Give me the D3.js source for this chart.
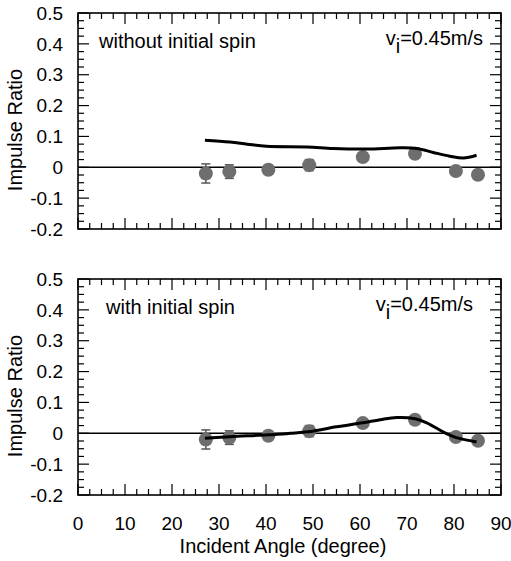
<!DOCTYPE html>
<html><head><meta charset="utf-8">
<script src="https://cdn.jsdelivr.net/npm/d3@7"></script>
<style>body{margin:0;background:#fff}svg{display:block}text{font-family:"Liberation Sans",Arial,sans-serif;fill:#000}</style>
</head><body><div id="c"></div>
<script>
// Data
const angles = [27.2, 32.2, 40.5, 49.2, 60.6, 71.7, 80.4, 85.1];
const measured = [-0.020, -0.014, -0.008, 0.007, 0.033, 0.044, -0.012, -0.024];
const errors = [0.031, 0.022, 0.014, 0.018, 0.008, 0.008, 0.008, 0.01];
const noSpinLineX = [27.0, 32.3, 36.0, 40.1, 48.7, 54.3, 61.4, 68.5, 72.1, 75.6, 79.1, 82.0, 84.8];
const noSpinLineY = [0.088, 0.082, 0.075, 0.068, 0.066, 0.061, 0.059, 0.063, 0.061, 0.048, 0.036, 0.030, 0.039];
const spinLineX = [27.0, 32.3, 40.5, 45.1, 49.0, 55.0, 60.6, 64.3, 67.8, 71.7, 74.2, 78.4, 80.5, 84.8];
const spinLineY = [-0.016, -0.011, -0.005, 0.0, 0.005, 0.021, 0.034, 0.044, 0.051, 0.047, 0.034, -0.001, -0.014, -0.028];
const xTicks = [0, 10, 20, 30, 40, 50, 60, 70, 80, 90];
const yTicks = [-0.2, -0.1, 0, 0.1, 0.2, 0.3, 0.4, 0.5];
const panelTitles = ["without initial spin", "with initial spin"];

const W = 511, H = 561;
const svg = d3.select("#c").append("svg").attr("width", W).attr("height", H);
const left = 78, right = 501, ph = 216;
const panels = [
  {top: 13, title: panelTitles[0], lx: noSpinLineX, ly: noSpinLineY, vEnd: 483, showX: false},
  {top: 279, title: panelTitles[1], lx: spinLineX, ly: spinLineY, vEnd: 473, showX: true}
];
const x = d3.scaleLinear().domain([0, 90]).range([left, right]);
const xMinor = d3.range(0, 90.01, 2.5);
const yMinor = d3.range(-0.2, 0.5001, 0.025);

panels.forEach(p => {
  const y = d3.scaleLinear().domain([-0.2, 0.5]).range([p.top + ph, p.top]);
  const g = svg.append("g");
  // ticks (inward, all sides)
  const tk = g.append("g").attr("stroke", "#000").attr("stroke-width", 1.2);
  xMinor.forEach(v => {
    const major = Math.abs(v / 10 - Math.round(v / 10)) < 1e-6;
    const L = major ? 11 : 6;
    tk.append("line").attr("x1", x(v)).attr("x2", x(v)).attr("y1", p.top + ph).attr("y2", p.top + ph - L);
    tk.append("line").attr("x1", x(v)).attr("x2", x(v)).attr("y1", p.top).attr("y2", p.top + L);
  });
  yMinor.forEach(v => {
    const major = Math.abs(v * 10 - Math.round(v * 10)) < 1e-6;
    const L = major ? 11 : 6;
    tk.append("line").attr("x1", left).attr("x2", left + L).attr("y1", y(v)).attr("y2", y(v));
    tk.append("line").attr("x1", right).attr("x2", right - L).attr("y1", y(v)).attr("y2", y(v));
  });
  // frame
  g.append("rect").attr("x", left).attr("y", p.top).attr("width", right - left).attr("height", ph)
    .attr("fill", "none").attr("stroke", "#000").attr("stroke-width", 1.6);
  // zero line
  g.append("line").attr("x1", left).attr("x2", right).attr("y1", y(0)).attr("y2", y(0))
    .attr("stroke", "#000").attr("stroke-width", 1.5);
  // y tick labels
  yTicks.forEach(v => {
    g.append("text").attr("x", 63).attr("y", y(v)).attr("dy", "0.35em").attr("text-anchor", "end")
      .attr("font-size", 19).text(v === 0 ? "0" : d3.format(".1f")(v).replace("−", "-"));
  });
  // y title
  g.append("text").attr("transform", `translate(22,${p.top + 117}) rotate(-90)`)
    .attr("text-anchor", "middle").attr("font-size", 20).text("Impulse Ratio");
  // error bars
  const eb = g.append("g").attr("stroke", "#555").attr("stroke-width", 1.5);
  angles.forEach((a, i) => {
    const cx = x(a), y1 = y(measured[i] + errors[i]), y2 = y(measured[i] - errors[i]);
    eb.append("line").attr("x1", cx).attr("x2", cx).attr("y1", y1).attr("y2", y2);
    eb.append("line").attr("x1", cx - 4.5).attr("x2", cx + 4.5).attr("y1", y1).attr("y2", y1);
    eb.append("line").attr("x1", cx - 4.5).attr("x2", cx + 4.5).attr("y1", y2).attr("y2", y2);
  });
  // dots
  g.append("g").selectAll("circle").data(angles).join("circle")
    .attr("cx", d => x(d)).attr("cy", (d, i) => y(measured[i])).attr("r", 7).attr("fill", "#6e6e6e");
  // model line
  const line = d3.line().x(d => x(d[0])).y(d => y(d[1])).curve(d3.curveCatmullRom.alpha(0.5));
  g.append("path").datum(p.lx.map((v, i) => [v, p.ly[i]])).attr("d", line)
    .attr("fill", "none").attr("stroke", "#000").attr("stroke-width", 3);
  // annotations
  g.append("text").attr("x", p === panels[0] ? 99 : 106).attr("y", p.top + 35).attr("font-size", 20).text(p.title);
  const vt = g.append("text").attr("x", p.vEnd).attr("y", p.top + 32).attr("text-anchor", "end").attr("font-size", 20);
  vt.append("tspan").text("v");
  vt.append("tspan").attr("dy", 8).text("i");
  vt.append("tspan").attr("dy", -8).text("=0.45m/s");
  if (p.showX) {
    xTicks.forEach(v => {
      g.append("text").attr("x", x(v)).attr("y", 530).attr("text-anchor", "middle").attr("font-size", 19).text(v);
    });
    g.append("text").attr("x", 283).attr("y", 553).attr("text-anchor", "middle").attr("font-size", 20)
      .text("Incident Angle (degree)");
  }
});
</script></body></html>
